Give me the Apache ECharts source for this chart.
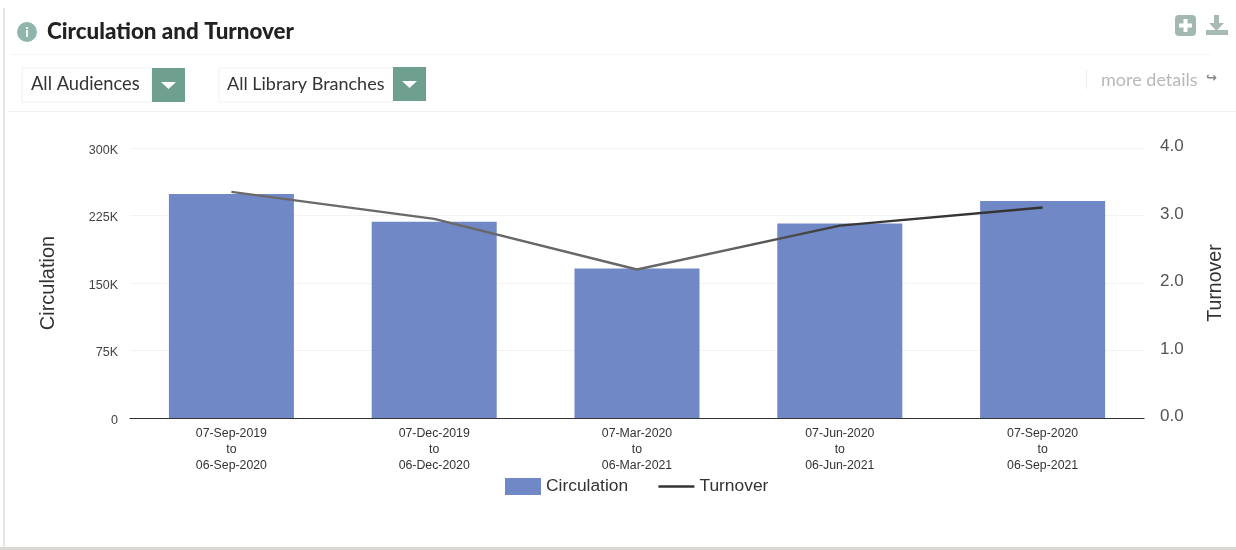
<!DOCTYPE html>
<html>
<head>
<meta charset="utf-8">
<style>
  html, body { margin: 0; padding: 0; background: #fff; }
  #chart { width: 1236px; height: 550px; }
</style>
<script src="https://cdn.jsdelivr.net/npm/echarts@6/dist/echarts.min.js"></script>
</head>
<body>
<div id="chart"></div>
<script>
// Reporting periods, one per bar
const periods = [
  '07-Sep-2019\nto\n06-Sep-2020',
  '07-Dec-2019\nto\n06-Dec-2020',
  '07-Mar-2020\nto\n06-Mar-2021',
  '07-Jun-2020\nto\n06-Jun-2021',
  '07-Sep-2020\nto\n06-Sep-2021'
];
const circulation = [249000, 218000, 166000, 216000, 241000];
const turnover = [3.35, 2.95, 2.2, 2.85, 3.12];

const widgetTitle = 'Circulation and Turnover';
const audienceFilter = 'All Audiences';
const branchFilter = 'All Library Branches';
const detailsLink = 'more details';

const UI_FONT = 'Lato, "Open Sans", sans-serif';
const CHART_FONT = '"Liberation Sans", Arial, sans-serif';
const GREEN = '#6f9f8e';

// Green dropdown button with a white caret
function dropdownButton(x, y) {
  return [
    { type: 'rect', shape: { x: x, y: y, width: 33, height: 34 }, style: { fill: GREEN } },
    { type: 'polygon', shape: { points: [[x + 9, y + 14], [x + 24, y + 14], [x + 16.5, y + 21]] }, style: { fill: '#fff' } }
  ];
}

const chrome = [
  // Panel edges and separators
  { type: 'rect', shape: { x: 3, y: 8, width: 2, height: 540 }, style: { fill: '#e6e6e6' } },
  { type: 'rect', shape: { x: 0, y: 547, width: 1236, height: 3 }, style: { fill: '#d9d9d2' } },
  { type: 'rect', shape: { x: 8, y: 111, width: 1228, height: 1 }, style: { fill: '#f1f1f1' } },
  { type: 'rect', shape: { x: 10, y: 54, width: 1200, height: 1 }, style: { fill: '#f5f5f5' } },

  // Info badge and title
  { type: 'circle', shape: { cx: 27, cy: 32, r: 10 }, style: { fill: '#8fb5ad' } },
  { type: 'text', style: { x: 27, y: 32, text: 'i', fill: '#fff', font: 'bold 14px ' + UI_FONT, align: 'center', verticalAlign: 'middle' } },
  { type: 'text', style: { x: 47, y: 32, text: widgetTitle, fill: '#222', font: '900 22.4px ' + UI_FONT, verticalAlign: 'middle' } },

  // Filter dropdowns
  { type: 'rect', shape: { x: 22, y: 68, width: 130, height: 34 }, style: { fill: '#fff', stroke: '#f0f0f0' } },
  { type: 'text', style: { x: 31, y: 84, text: audienceFilter, fill: '#333', font: '18.3px ' + UI_FONT, verticalAlign: 'middle' } },
  ...dropdownButton(152, 68),
  { type: 'rect', shape: { x: 219, y: 68, width: 174, height: 34 }, style: { fill: '#fff', stroke: '#f0f0f0' } },
  { type: 'text', style: { x: 227, y: 84, text: branchFilter, fill: '#333', font: '18px ' + UI_FONT, verticalAlign: 'middle' } },
  ...dropdownButton(393, 67),

  // Expand and download icons
  { type: 'rect', shape: { x: 1175, y: 15, width: 21, height: 21, r: 4 }, style: { fill: '#a3b8b2' } },
  { type: 'rect', shape: { x: 1183.5, y: 19, width: 4, height: 13 }, style: { fill: '#fff' } },
  { type: 'rect', shape: { x: 1179, y: 23.5, width: 13, height: 4 }, style: { fill: '#fff' } },
  { type: 'rect', shape: { x: 1214, y: 15, width: 5, height: 9 }, style: { fill: '#a8bab4' } },
  { type: 'polygon', shape: { points: [[1209, 23], [1224, 23], [1216.5, 31]] }, style: { fill: '#a8bab4' } },
  { type: 'rect', shape: { x: 1206, y: 30, width: 22, height: 5 }, style: { fill: '#a8bab4' } },

  // Details link
  { type: 'rect', shape: { x: 1086, y: 70, width: 1, height: 19 }, style: { fill: '#eeeeee' } },
  { type: 'text', style: { x: 1101, y: 80, text: detailsLink, fill: '#b8b8b8', font: '18px ' + UI_FONT, verticalAlign: 'middle' } },
  { type: 'text', style: { x: 1206, y: 79, text: '\u21aa', fill: '#888', font: 'bold 13px "DejaVu Sans"', verticalAlign: 'middle' } }
];

const chart = echarts.init(document.getElementById('chart'), null, { renderer: 'canvas' });
chart.setOption({
  animation: false,
  backgroundColor: '#fff',
  graphic: { elements: chrome },
  grid: { left: 130, right: 92, top: 148, bottom: 132 },
  legend: {
    left: 500,
    top: 473,
    itemGap: 29,
    itemWidth: 36,
    itemHeight: 17,
    data: [
      { name: 'Circulation', icon: 'rect' },
      {
        name: 'Turnover',
        icon: 'inherit',
        lineStyle: { color: '#333', width: 2.5 },
        // Line only in the key, no marker on it
        itemStyle: { color: 'transparent', borderColor: 'transparent', opacity: 0 }
      }
    ],
    textStyle: { fontFamily: CHART_FONT, fontSize: 17.4, color: '#333' }
  },
  xAxis: {
    type: 'category',
    data: periods,
    axisLine: { lineStyle: { color: '#333', width: 1.2 } },
    axisTick: { show: false },
    axisLabel: {
      fontFamily: CHART_FONT,
      fontSize: 12.3,
      lineHeight: 16,
      color: '#333',
      margin: 8,
      interval: 0
    }
  },
  yAxis: [
    {
      type: 'value',
      min: 0,
      max: 300000,
      interval: 75000,
      name: 'Circulation',
      nameLocation: 'middle',
      nameGap: 72,
      nameTextStyle: { fontFamily: CHART_FONT, fontSize: 20, color: '#333' },
      axisLine: { show: false },
      axisTick: { show: false },
      axisLabel: {
        fontFamily: CHART_FONT,
        fontSize: 12.5,
        color: '#444',
        margin: 12,
        verticalAlign: 'top',
        lineHeight: 5,
        formatter: v => (v === 0 ? '0' : v / 1000 + 'K')
      },
      splitLine: { lineStyle: { color: '#f3f3f3', width: 1 } }
    },
    {
      type: 'value',
      min: 0,
      max: 4,
      interval: 1,
      name: 'Turnover',
      nameLocation: 'middle',
      nameGap: 62,
      nameTextStyle: { fontFamily: CHART_FONT, fontSize: 19.5, color: '#333' },
      axisLine: { show: false },
      axisTick: { show: false },
      axisLabel: {
        fontFamily: CHART_FONT,
        fontSize: 17,
        color: '#555',
        margin: 16,
        verticalAlign: 'bottom',
        lineHeight: 3,
        formatter: v => v.toFixed(1)
      },
      splitLine: { show: false }
    }
  ],
  series: [
    {
      name: 'Circulation',
      type: 'bar',
      data: circulation,
      barWidth: 125,
      itemStyle: { color: '#7088c6' }
    },
    {
      name: 'Turnover',
      type: 'line',
      yAxisIndex: 1,
      data: turnover,
      symbol: 'none',
      lineStyle: {
        width: 2.5,
        // The trace darkens over its last segments
        color: new echarts.graphic.LinearGradient(0, 0, 1, 0, [
          { offset: 0, color: '#6a6a6a' },
          { offset: 0.6, color: '#666' },
          { offset: 0.75, color: '#3a3a3a' },
          { offset: 1, color: '#333' }
        ])
      },
      itemStyle: { color: '#333' }
    }
  ]
});
</script>
</body>
</html>
